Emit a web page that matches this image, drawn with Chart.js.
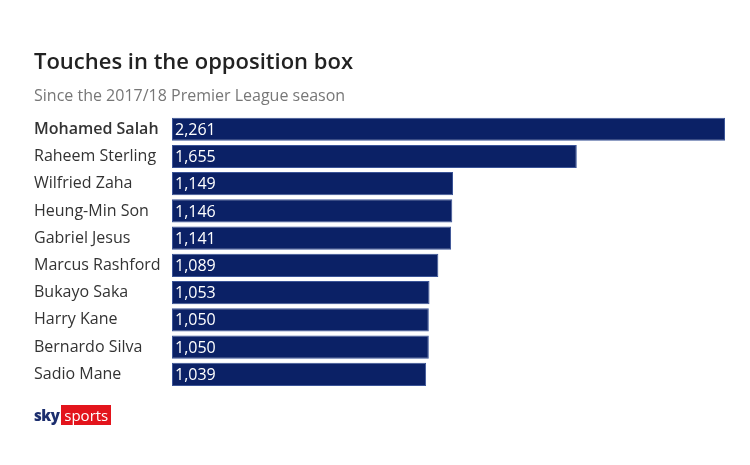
<!DOCTYPE html>
<html>
<head>
<meta charset="utf-8">
<script src="https://cdn.jsdelivr.net/npm/chart.js@4/dist/chart.umd.min.js"></script>
<style>
  body { margin: 0; background: #fff; }
  #wrap { position: relative; width: 750px; height: 465px; }
  #logo { position: absolute; left: 34px; top: 406px; font-family: "Open Sans", sans-serif; font-size: 15px; line-height: 18px; }
  #logo .sky { color: #1c2e6e; font-weight: 800; letter-spacing: -0.5px; }
  #logo .sports { background: #e3141c; color: #fff; padding: 0 3px; margin-left: 2px; }
</style>
</head>
<body>
<div id="wrap">
  <canvas id="chart" width="750" height="465"></canvas>
  <div id="logo"><span class="sky">sky</span><span class="sports">sports</span></div>
</div>
<script>
const players = ['Mohamed Salah', 'Raheem Sterling', 'Wilfried Zaha', 'Heung-Min Son', 'Gabriel Jesus',
    'Marcus Rashford', 'Bukayo Saka', 'Harry Kane', 'Bernardo Silva', 'Sadio Mane'];
const touches = [2261, 1655, 1149, 1146, 1141, 1089, 1053, 1050, 1050, 1039];

const fontFamily = '"Open Sans", sans-serif';

const valueLabels = {
    id: 'valueLabels',
    afterDatasetsDraw(chart) {
        const ctx = chart.ctx;
        const meta = chart.getDatasetMeta(0);
        ctx.save();
        ctx.fillStyle = '#ffffff';
        ctx.font = '16px ' + fontFamily;
        ctx.textBaseline = 'middle';
        ctx.textAlign = 'left';
        meta.data.forEach((bar, i) => {
            ctx.fillText(touches[i].toLocaleString('en-GB'), bar.base + 3, bar.y + 1);
        });
        ctx.restore();
    }
};

new Chart(document.getElementById('chart').getContext('2d'), {
    type: 'bar',
    data: {
        labels: players,
        datasets: [{
            data: touches,
            backgroundColor: '#0b2166',
            borderColor: '#3b5497',
            borderWidth: 1,
            borderSkipped: false,
            barPercentage: 0.85,
            categoryPercentage: 1
        }]
    },
    options: {
        indexAxis: 'y',
        responsive: false,
        animation: false,
        layout: {
            padding: { left: 34, right: 25, top: 50, bottom: 77 }
        },
        scales: {
            x: {
                display: false,
                min: 0,
                max: 2261
            },
            y: {
                grid: { display: false, drawTicks: false },
                border: { display: false },
                afterFit: (scale) => { scale.width = 138; },
                ticks: {
                    crossAlign: 'far',
                    color: '#333333',
                    padding: 0,
                    font: (c) => ({
                        family: fontFamily,
                        size: 16,
                        weight: c.index === 0 ? '600' : 'normal'
                    })
                }
            }
        },
        plugins: {
            legend: { display: false },
            tooltip: { enabled: false },
            title: {
                display: true,
                text: 'Touches in the opposition box',
                align: 'start',
                color: '#222222',
                font: { family: fontFamily, size: 22, weight: '600' },
                padding: { top: 0, bottom: 10 }
            },
            subtitle: {
                display: true,
                text: 'Since the 2017/18 Premier League season',
                align: 'start',
                color: '#777777',
                font: { family: fontFamily, size: 16 },
                padding: { top: 0, bottom: 10 }
            }
        }
    },
    plugins: [valueLabels]
});
</script>
</body>
</html>
